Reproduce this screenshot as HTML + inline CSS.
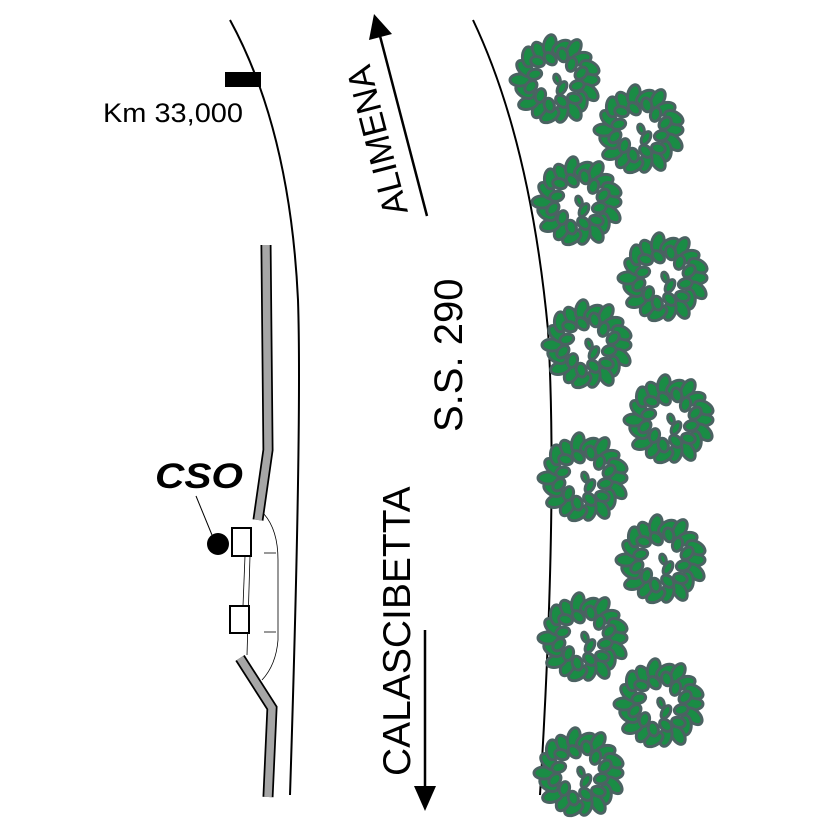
<!DOCTYPE html>
<html><head><meta charset="utf-8"><style>
html,body{margin:0;padding:0;background:#fff}
svg{display:block}
text{font-family:"Liberation Sans",sans-serif}
</style></head><body>
<svg id="s" width="828" height="828" viewBox="0 0 828 828" xmlns="http://www.w3.org/2000/svg">
<defs><g id="tree"></g></defs>
<path d="M230,20 Q290,130 298,300 Q302,420 290,795" fill="none" stroke="#000" stroke-width="2"/>
<path d="M473,20 Q530,140 548,330 Q558,500 540,795" fill="none" stroke="#000" stroke-width="2"/>
<rect x="225" y="72" width="36" height="15" fill="#000"/>
<text x="103" y="122" font-size="27" textLength="140" lengthAdjust="spacingAndGlyphs">Km 33,000</text>
<line x1="427" y1="216" x2="380" y2="36" stroke="#000" stroke-width="2.5"/>
<polygon points="374,14 369,40 392,34" fill="#000"/>
<text transform="translate(408,212) rotate(-104.5)" font-size="35">ALIMENA</text>
<text transform="translate(462,432) rotate(-90)" font-size="40">S.S. 290</text>
<text transform="translate(410,776) rotate(-90)" font-size="39">CALASCIBETTA</text>
<line x1="425" y1="630" x2="425" y2="790" stroke="#000" stroke-width="2.5"/>
<polygon points="414,786 436,786 425,811" fill="#000"/>
<polyline points="266,245 268,450 258,520" fill="none" stroke="#000" stroke-width="11"/>
<polyline points="266,245 268,450 258,520" fill="none" stroke="#a6a6a6" stroke-width="7.5"/>
<polyline points="240,658 272,708 268,797" fill="none" stroke="#000" stroke-width="11"/>
<polyline points="240,658 272,708 268,797" fill="none" stroke="#a6a6a6" stroke-width="7.5"/>
<path d="M264,514 Q278,530 278,560 L278,640 Q276,665 262,680" fill="none" stroke="#000" stroke-width="0.8"/>
<line x1="264" y1="553" x2="276" y2="553" stroke="#000" stroke-width="0.8"/>
<line x1="264" y1="632" x2="276" y2="632" stroke="#000" stroke-width="0.8"/>
<line x1="245" y1="556" x2="243" y2="606" stroke="#000" stroke-width="0.8"/>
<line x1="250" y1="556" x2="247" y2="655" stroke="#000" stroke-width="0.8"/>
<rect x="232" y="528" width="19" height="28" fill="#fff" stroke="#000" stroke-width="2"/>
<rect x="230" y="606" width="19" height="27" fill="#fff" stroke="#000" stroke-width="2"/>
<circle cx="218" cy="544" r="11" fill="#000"/>
<line x1="196" y1="496" x2="212" y2="535" stroke="#000" stroke-width="1"/>
<text x="155" y="488" font-size="35" font-weight="bold" font-style="italic" textLength="88" lengthAdjust="spacingAndGlyphs">CSO</text>
<g id="trees"></g>
</svg>
<script>
var ns="http://www.w3.org/2000/svg",t=document.getElementById("tree");
function leaf(cx,cy,a,len,w){var e=document.createElementNS(ns,"ellipse");e.setAttribute("cx",0);e.setAttribute("cy",0);e.setAttribute("rx",w);e.setAttribute("ry",len);
e.setAttribute("transform","translate("+cx+","+cy+") rotate("+a+")");e.setAttribute("fill","#1a8c45");e.setAttribute("stroke","#4b6262");e.setAttribute("stroke-width","3");t.appendChild(e);}
for(var i=0;i<18;i++){var a=i/18*2*Math.PI;var r=(i%2?36:33);leaf(r*Math.cos(a),r*Math.sin(a),a*180/Math.PI+90+(i%3)*25,10,6);}
for(var i=0;i<12;i++){var a=(i+0.5)/12*2*Math.PI;var r=(i%2?26:22);leaf(r*Math.cos(a),r*Math.sin(a),a*180/Math.PI+60,7,5);}
leaf(6,8,30,7,4);leaf(1,-1,-20,5,3);
var c=[[556,80],[640,130],[578,202],[664,278],[588,345],[670,420],[584,478],[662,560],[584,638],[660,704],[580,773]];
var g=document.getElementById("trees");
c.forEach(function(p){var u=document.createElementNS(ns,"use");u.setAttribute("href","#tree");u.setAttribute("transform","translate("+p[0]+","+p[1]+")");g.appendChild(u);});
</script>
</body></html>
